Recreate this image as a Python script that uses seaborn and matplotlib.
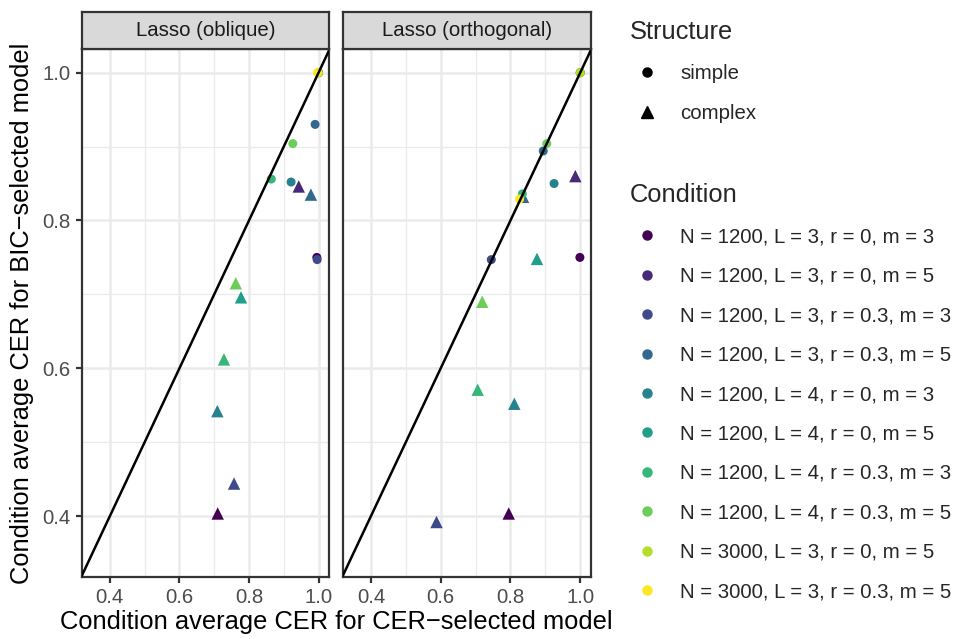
import pandas as pd
import seaborn as sns
import matplotlib.pyplot as plt
from matplotlib.lines import Line2D
from matplotlib.ticker import MultipleLocator

conditions = [
    "N = 1200, L = 3, r = 0, m = 3",
    "N = 1200, L = 3, r = 0, m = 5",
    "N = 1200, L = 3, r = 0.3, m = 3",
    "N = 1200, L = 3, r = 0.3, m = 5",
    "N = 1200, L = 4, r = 0, m = 3",
    "N = 1200, L = 4, r = 0, m = 5",
    "N = 1200, L = 4, r = 0.3, m = 3",
    "N = 1200, L = 4, r = 0.3, m = 5",
    "N = 3000, L = 3, r = 0, m = 5",
    "N = 3000, L = 3, r = 0.3, m = 5",
]
viridis10 = ["#440154", "#482878", "#3E4A89", "#31688E", "#26828E",
             "#1F9E89", "#35B779", "#6DCD59", "#B4DE2C", "#FDE725"]
methods = ["Lasso (oblique)", "Lasso (orthogonal)"]

# simple structure: all 10 conditions, complex: the 8 N = 1200 conditions
obl_simple_cer = [0.995, 1.0, 0.996, 0.990, 0.921, 1.0, 0.864, 0.926, 1.0, 0.997]
obl_simple_bic = [0.750, 1.0, 0.747, 0.930, 0.852, 1.0, 0.856, 0.904, 1.0, 1.0]
obl_complex_cer = [0.710, 0.943, 0.757, 0.978, 0.709, 0.777, 0.728, 0.762]
obl_complex_bic = [0.4035, 0.846, 0.444, 0.835, 0.542, 0.696, 0.612, 0.715]
orth_simple_cer = [0.999, 1.0, 0.745, 0.894, 0.925, 1.0, 0.834, 0.904, 1.0, 0.826]
orth_simple_bic = [0.750, 1.0, 0.747, 0.894, 0.850, 1.0, 0.836, 0.904, 1.0, 0.829]
orth_complex_cer = [0.795, 0.986, 0.588, 0.836, 0.811, 0.876, 0.706, 0.719]
orth_complex_bic = [0.4035, 0.860, 0.392, 0.832, 0.552, 0.748, 0.571, 0.690]

rows = []
for method, simple, complex_ in [
    (methods[0], (obl_simple_cer, obl_simple_bic), (obl_complex_cer, obl_complex_bic)),
    (methods[1], (orth_simple_cer, orth_simple_bic), (orth_complex_cer, orth_complex_bic)),
]:
    for i, cond in enumerate(conditions):
        rows.append((method, "simple", i, cond, simple[0][i], simple[1][i]))
        if i < len(complex_[0]):
            rows.append((method, "complex", i, cond, complex_[0][i], complex_[1][i]))
df = pd.DataFrame(rows, columns=["method", "structure", "idx", "condition", "cer", "bic"])

sns.set_theme(style="whitegrid")
plt.rcParams['font.family'] = ['Liberation Sans', 'DejaVu Sans']

W, H = 958, 639
fig = plt.figure(figsize=(W / 100, H / 100), dpi=100)
panel_x = [(81.7, 329.0), (342.7, 590.7)]
top, bottom, strip_top = 49, 576.7, 12
dark = '#333333'

for k, method in enumerate(methods):
    l, r = panel_x[k]
    ax = fig.add_axes([l / W, 1 - bottom / H, (r - l) / W, (bottom - top) / H])
    sub = df[df.method == method]
    sns.scatterplot(data=sub, x='cer', y='bic', hue='condition', hue_order=conditions,
                    palette=viridis10, style='structure',
                    markers={'simple': 'o', 'complex': '^'},
                    size='structure', sizes={'simple': 42, 'complex': 80},
                    linewidth=0, legend=False, ax=ax, zorder=2)
    ax.axline((0, 0), (1, 1), color='black', lw=1.8, zorder=3)
    ax.set_xlim(0.319, 1.030)
    ax.set_ylim(0.318, 1.032)
    for axis in (ax.xaxis, ax.yaxis):
        axis.set_major_locator(MultipleLocator(0.2))
        axis.set_minor_locator(MultipleLocator(0.1))
    ax.set_axisbelow(True)
    ax.grid(which='major', color='#EBEBEB', lw=1.8)
    ax.grid(which='minor', color='#EBEBEB', lw=0.9)
    ax.tick_params(which='minor', length=0)
    ax.tick_params(which='major', bottom=True, left=(k == 0), labelleft=(k == 0),
                   length=4.2, width=1.6, color=dark, labelsize=14.7,
                   labelcolor='#4D4D4D', pad=3.7)
    for s in ax.spines.values():
        s.set_color(dark)
        s.set_linewidth(1.6)
    ax.set_xlabel('')
    ax.set_ylabel('')

    sax = fig.add_axes([l / W, 1 - top / H, (r - l) / W, (top - strip_top) / H])
    sax.set_facecolor('#D9D9D9')
    sax.set_xticks([])
    sax.set_yticks([])
    sax.grid(False)
    for s in sax.spines.values():
        s.set_color(dark)
        s.set_linewidth(1.6)
    sax.text(0.5, 0.5, method, ha='center', va='center', fontsize=14.7, color='#1A1A1A')

fig.text(22 / W, 1 - 312.9 / H, "Condition average CER for BIC\u2212selected model",
         rotation=90, ha='center', va='center', fontsize=18.4, color='black')
fig.text(336 / W, 1 - 622 / H, "Condition average CER for CER\u2212selected model",
         ha='center', va='center', fontsize=18.4, color='black')

struct_handles = [
    Line2D([], [], marker='o', ls='', color='black', markersize=6.5),
    Line2D([], [], marker='^', ls='', color='black', markersize=9),
]
cond_handles = [Line2D([], [], marker='o', ls='', color=c, markersize=6.5) for c in viridis10]

common = dict(loc='upper left', frameon=False, fontsize=14.7, title_fontsize=18.4,
              alignment='left', handlelength=1.67, handletextpad=0.78,
              labelspacing=1.0, borderpad=0, borderaxespad=0)
fig.legend(struct_handles, ['simple', 'complex'], title='Structure',
           bbox_to_anchor=(630 / W, 1 - 20 / H), **common)
fig.legend(cond_handles, conditions, title='Condition',
           bbox_to_anchor=(630 / W, 1 - 183 / H), **common)

fig.savefig('out.png', dpi=100)
